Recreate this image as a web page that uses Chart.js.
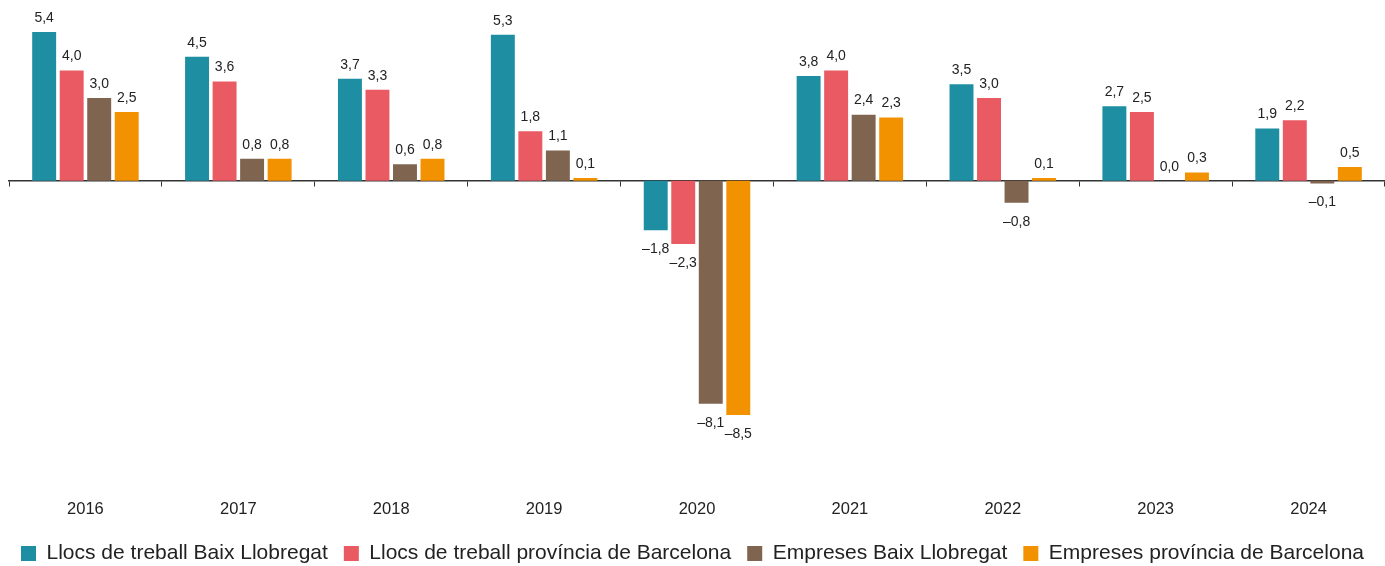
<!DOCTYPE html>
<html>
<head>
<meta charset="utf-8">
<script src="https://cdn.jsdelivr.net/npm/chart.js@4"></script>
<style>
  html, body { margin: 0; padding: 0; background: #fff; }
  #wrap { width: 1385px; height: 566px; position: relative; }
</style>
</head>
<body>
<div id="wrap"><canvas id="chart"></canvas></div>
<script>
const years = ['2016', '2017', '2018', '2019', '2020', '2021', '2022', '2023', '2024'];
const llocsBaix = [5.4, 4.5, 3.7, 5.3, -1.8, 3.8, 3.5, 2.7, 1.9];
const llocsProv = [4.0, 3.6, 3.3, 1.8, -2.3, 4.0, 3.0, 2.5, 2.2];
const empresesBaix = [3.0, 0.8, 0.6, 1.1, -8.1, 2.4, -0.8, 0.0, -0.1];
const empresesProv = [2.5, 0.8, 0.8, 0.1, -8.5, 2.3, 0.1, 0.3, 0.5];

const FONT = 'Liberation Sans, Arial, Helvetica, sans-serif';

function fmt(v) {
    const s = Math.abs(v).toFixed(1).replace('.', ',');
    return v < 0 ? '\u2013' + s : s;
}

// value labels above / below each bar
const barLabels = {
    id: 'barLabels',
    afterDatasetsDraw(chart) {
        const ctx = chart.ctx;
        ctx.save();
        ctx.font = '14px ' + FONT;
        ctx.fillStyle = '#222';
        ctx.textAlign = 'center';
        chart.data.datasets.forEach((ds, i) => {
            const meta = chart.getDatasetMeta(i);
            meta.data.forEach((bar, j) => {
                const v = ds.data[j];
                if (v < 0) {
                    ctx.textBaseline = 'top';
                    ctx.fillText(fmt(v), bar.x, bar.y + 12);
                } else {
                    ctx.textBaseline = 'bottom';
                    ctx.fillText(fmt(v), bar.x, bar.y - 7);
                }
            });
        });
        ctx.restore();
    }
};

const ds = (label, data, color) => ({
    label: label,
    data: data,
    backgroundColor: color,
    borderWidth: 0,
    categoryPercentage: 0.72,
    barPercentage: 0.87
});

new Chart(document.getElementById('chart'), {
    type: 'bar',
    data: {
        labels: years,
        datasets: [
            ds('Llocs de treball Baix Llobregat', llocsBaix, '#1e8ea2'),
            ds('Llocs de treball província de Barcelona', llocsProv, '#e95a63'),
            ds('Empreses Baix Llobregat', empresesBaix, '#7f6550'),
            ds('Empreses província de Barcelona', empresesProv, '#f39200')
        ]
    },
    options: {
        responsive: true,
        maintainAspectRatio: false,
        animation: false,
        layout: { padding: { left: 0, right: 0, top: 5, bottom: -8 } },
        plugins: {
            tooltip: { enabled: false },
            legend: {
                position: 'bottom',
                labels: {
                    boxWidth: 15,
                    boxHeight: 15,
                    padding: 16,
                    color: '#222',
                    font: { family: FONT, size: 21 }
                }
            }
        },
        scales: {
            y: {
                display: true,
                min: -10.98,
                max: 6.38,
                grid: { display: false },
                border: { display: false },
                ticks: { display: false },
                afterFit: (scale) => { scale.width = 9; }
            },
            x: {
                position: { y: 0 },
                grid: {
                    offset: true,
                    drawOnChartArea: false,
                    drawTicks: true,
                    tickLength: 5,
                    color: '#333'
                },
                border: { color: '#333', width: 1.5 },
                ticks: { display: false }
            },
            x2: {
                type: 'category',
                labels: years,
                position: 'bottom',
                offset: true,
                grid: { display: false },
                border: { display: false },
                ticks: {
                    color: '#222',
                    padding: 8,
                    font: { family: FONT, size: 16.5 }
                }
            }
        }
    },
    plugins: [barLabels]
});
</script>
</body>
</html>
